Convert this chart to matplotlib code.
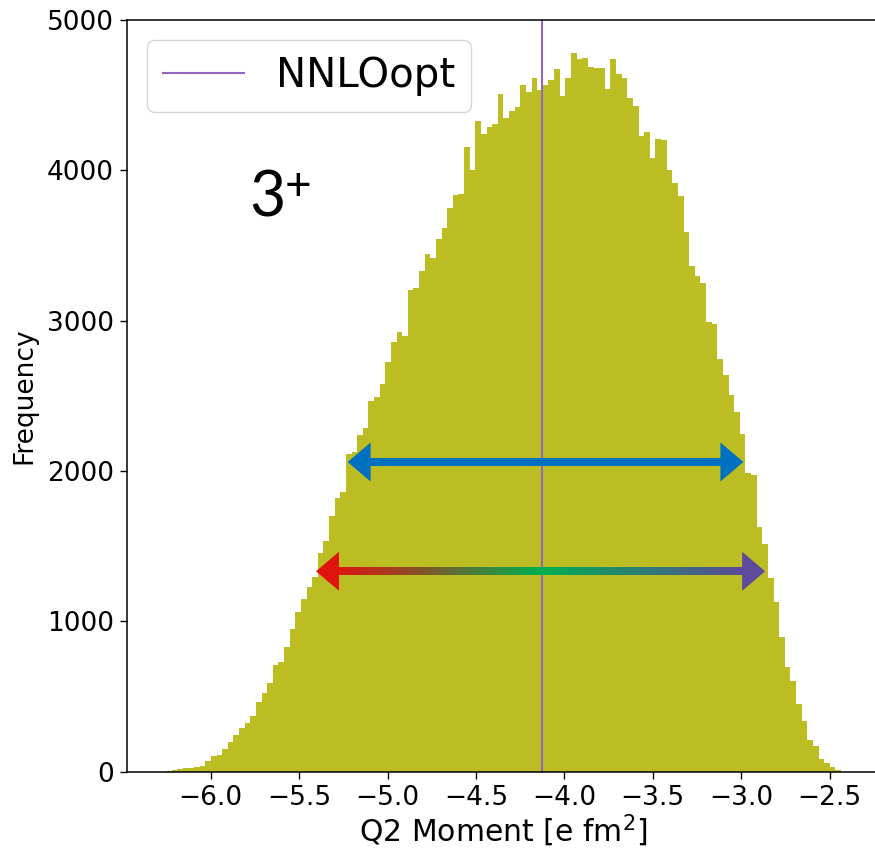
import numpy as np
import matplotlib.pyplot as plt
from matplotlib.colors import LinearSegmentedColormap
from matplotlib.patches import Polygon

# --- histogram of the Q2 moment samples (counts per bin) ---
hist_min, hist_max = -6.254, -2.4345
counts = [
    5, 8, 16, 25, 27, 33, 40, 73, 105, 113,
    149, 196, 247, 293, 327, 369, 465, 522, 587, 709,
    733, 831, 947, 1060, 1149, 1229, 1296, 1456, 1533, 1700,
    1818, 1858, 2111, 2125, 2238, 2289, 2467, 2493, 2582, 2727,
    2856, 2922, 2900, 3207, 3218, 3329, 3445, 3414, 3540, 3616,
    3747, 3833, 3845, 4152, 4003, 4325, 4245, 4285, 4309, 4505,
    4351, 4393, 4422, 4569, 4522, 4616, 4533, 4567, 4600, 4673,
    4496, 4611, 4782, 4740, 4749, 4689, 4678, 4682, 4538, 4740,
    4640, 4616, 4478, 4429, 4229, 4256, 4082, 4211, 4200, 4000,
    3918, 3827, 3593, 3365, 3300, 3249, 2990, 2980, 2745, 2640,
    2505, 2393, 2243, 1989, 1971, 1627, 1516, 1289, 1127, 896,
    696, 605, 449, 338, 211, 171, 85, 60, 29, 11,
]
nnlo_opt = -4.129

# intervals marked with arrows: (left, right, height)
band_1 = (-5.226, -2.987, 2060)
band_2 = (-5.405, -2.864, 1333)

edges = np.linspace(hist_min, hist_max, len(counts) + 1)
centers = 0.5 * (edges[:-1] + edges[1:])

fig = plt.figure(figsize=(8.75, 8.5), dpi=100)
ax = fig.add_axes([127 / 875, 78.3 / 850, 752 / 875, 751.7 / 850])

ax.hist(centers, bins=edges, weights=counts, color='tab:olive',
        histtype='stepfilled')
ax.axvline(nnlo_opt, color='tab:purple', linewidth=1.5, label='NNLOopt')

ax.set_xlim(-6.474, -2.22)
ax.set_ylim(0, 5000)
ax.set_xticks(np.arange(-6.0, -2.4, 0.5))
ax.set_yticks(np.arange(0, 5001, 1000))
ax.tick_params(labelsize=19, length=4.8, width=1.0, pad=4.8)
for s in ax.spines.values():
    s.set_linewidth(1.1)

ax.set_xlabel('Q2 Moment [e fm$^2$]', fontsize=21.5, labelpad=1.5)
ax.set_ylabel('Frequency', fontsize=19, labelpad=6.5)

ax.legend(loc='upper left', fontsize=29)

# state label
ax.text(0.1622, 0.7383, '3', transform=ax.transAxes,
        fontsize=45, family='Lato', ha='left', va='baseline')
ax.text(0.2095, 0.7612, '+', transform=ax.transAxes,
        fontsize=33, family='Lato', ha='left', va='baseline')

# arrow geometry in pixels, converted to data units
x0, x1 = ax.get_xlim()
y0, y1 = ax.get_ylim()
bb = ax.get_position()
ux = (x1 - x0) / (bb.width * fig.get_figwidth() * fig.dpi)
uy = (y1 - y0) / (bb.height * fig.get_figheight() * fig.dpi)
head_len = 23
head_half = 19.5
shaft_half = 3.6


def arrow_head(xtip, y, direction, color):
    base = xtip - direction * head_len * ux
    pts = [(xtip, y), (base, y + head_half * uy), (base, y - head_half * uy)]
    ax.add_patch(Polygon(pts, closed=True, color=color, linewidth=0, zorder=4))


def double_arrow(band, colors):
    left, right, y = band
    a = left + head_len * ux * 0.9
    b = right - head_len * ux * 0.9
    cmap = LinearSegmentedColormap.from_list('arr', colors)
    grad = np.linspace(0, 1, 256).reshape(1, -1)
    ax.imshow(grad, cmap=cmap, aspect='auto', interpolation='bilinear',
              extent=(a, b, y - shaft_half * uy, y + shaft_half * uy), zorder=4)
    arrow_head(left, y, -1, colors[0])
    arrow_head(right, y, 1, colors[-1])


double_arrow(band_1, ['#0070c0', '#0070c0'])
double_arrow(band_2, ['#e0140f', '#00b050', '#5c4a9c'])

ax.set_xlim(x0, x1)
ax.set_ylim(y0, y1)

fig.savefig('out.png', dpi=100)
